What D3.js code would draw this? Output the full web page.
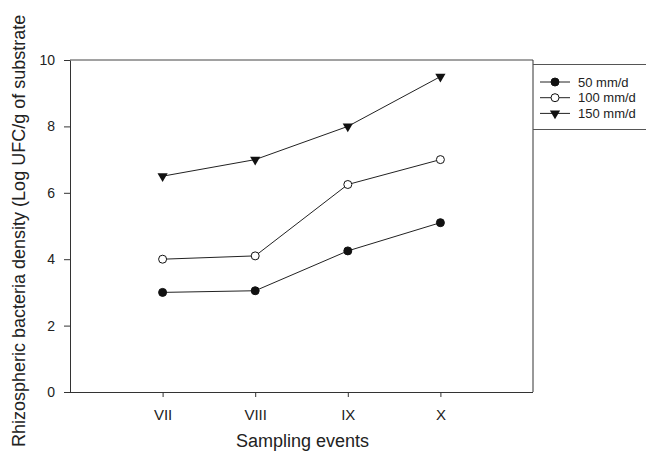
<!DOCTYPE html>
<html>
<head>
<meta charset="utf-8">
<script src="https://cdn.jsdelivr.net/npm/d3@7"></script>
<style>
  body { margin:0; background:#fff; }
  text { font-family: "Liberation Sans", Arial, sans-serif; fill:#222; }
</style>
</head>
<body>
<div id="chart"></div>
<script>
const events = ["VII","VIII","IX","X"]
const s50  = [3.0, 3.05, 4.25, 5.1]
const s100 = [4.0, 4.1, 6.25, 7.0]
const s150 = [6.5, 7.0, 8.0, 9.5]
const seriesNames = ["50 mm/d","100 mm/d","150 mm/d"]
const yTicks = [0,2,4,6,8,10]

const margin = {top:60, right:113, bottom:61, left:70},
      width  = 646 - margin.left - margin.right,
      height = 453 - margin.top - margin.bottom

const svg = d3.select("#chart")
  .append("svg")
    .attr("width", 646)
    .attr("height", 453)

const g = svg.append("g")
    .attr("transform","translate(" + margin.left + "," + margin.top + ")")

const x = d3.scaleLinear().domain([0,5]).range([0, width])
const y = d3.scaleLinear().domain([0,10]).range([height, 0])

// frame (top, right)
g.append("line").attr("x1",0).attr("x2",width).attr("y1",0).attr("y2",0)
  .style("stroke","#444").style("stroke-width",1)
g.append("line").attr("x1",width).attr("x2",width).attr("y1",0).attr("y2",height)
  .style("stroke","#333").style("stroke-width",1)

// x axis
const xAx = g.append("g")
  .attr("transform","translate(0," + height + ")")
  .call(d3.axisBottom(x)
    .tickValues([1,2,3,4])
    .tickFormat((d)=>events[d-1])
    .tickSize(5)
    .tickSizeOuter(0))
xAx.select(".domain").attr("d","M-5,0.5H" + width)
xAx.selectAll("text").style("font-size","15px").attr("y",0).attr("dy",0)
  .attr("transform","translate(0,28)")
xAx.selectAll("line,path").style("stroke","#333")

// y axis
const yAx = g.append("g")
  .call(d3.axisLeft(y)
    .tickValues(yTicks)
    .tickSize(5)
    .tickSizeOuter(0))
yAx.selectAll("text").style("font-size","14px").attr("x",-15)
yAx.selectAll("line,path").style("stroke","#333")
yAx.selectAll(".tick line").attr("x2",-6)

// axis titles
svg.append("text")
  .attr("x", margin.left + width/2 + 1)
  .attr("y", 447)
  .attr("text-anchor","middle")
  .style("font-size","18px")
  .text("Sampling events")
svg.append("text")
  .attr("transform","translate(25,447) rotate(-90)")
  .attr("text-anchor","start")
  .style("font-size","18px")
  .text("Rhizospheric bacteria density (Log UFC/g of substrate")

// lines
const allSeries = [s50, s100, s150]
const line = d3.line().x((d,i)=>x(i+1)).y(d=>y(d))
g.selectAll(".ser")
  .data(allSeries)
  .join("path")
  .attr("d", line)
  .style("fill","none")
  .style("stroke","#222")
  .style("stroke-width",1)

const tri = d3.symbol().type(d3.symbolTriangle).size(45)
function marker(sel, k) {
  if (k === 2) {
    sel.append("path").attr("d", tri).attr("transform","rotate(180)")
      .style("fill","#111")
  } else {
    sel.append("circle").attr("r",4)
      .style("fill", k === 0 ? "#111" : "#fff")
      .style("stroke","#111").style("stroke-width",1)
  }
}
allSeries.forEach((s,k)=>{
  s.forEach((v,i)=>{
    const m = g.append("g").attr("transform","translate(" + x(i+1) + "," + y(v) + ")")
    marker(m, k)
  })
})

// legend
const lx = margin.left + width
const leg = svg.append("g")
leg.append("line").attr("x1",lx).attr("x2",646).attr("y1",64.5).attr("y2",64.5).style("stroke","#555")
leg.append("line").attr("x1",lx).attr("x2",646).attr("y1",129.5).attr("y2",129.5).style("stroke","#555")
seriesNames.forEach((n,k)=>{
  const ly = 82 + k*15.7
  leg.append("line").attr("x1",lx+7).attr("x2",lx+37).attr("y1",ly).attr("y2",ly)
    .style("stroke","#222").style("stroke-width",1)
  const m = leg.append("g").attr("transform","translate(" + (lx+22) + "," + ly + ")")
  marker(m, k)
  leg.append("text").attr("x",lx+45).attr("y",ly+4.5)
    .style("font-size","13px").text(n)
})
</script>
</body>
</html>
